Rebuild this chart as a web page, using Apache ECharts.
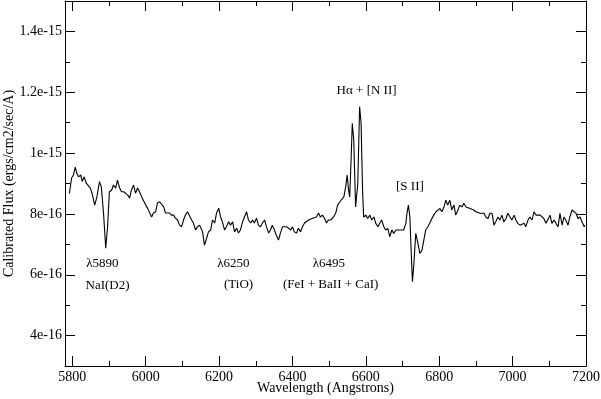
<!DOCTYPE html>
<html>
<head>
<meta charset="utf-8">
<script src="https://cdn.jsdelivr.net/npm/echarts@6/dist/echarts.min.js"></script>
<style>
  html, body { margin: 0; padding: 0; background: #fff; }
  #chart { width: 601px; height: 399px; }
</style>
</head>
<body>
<div id="chart"></div>
<script>
  // spectrum, wavelength in Angstrom, flux in units of 1e-16 ergs/cm2/sec/A
  const wavelength = [
    5792, 5798, 5803, 5808, 5812, 5817, 5823, 5827, 5832, 5838, 5843, 5849, 5854, 5861, 5867, 5874, 5879, 5885, 5891, 5896,
    5901, 5907, 5912, 5918, 5923, 5929, 5934, 5940, 5945, 5951, 5956, 5961, 5967, 5972, 5978, 5983, 5989, 5994, 6000, 6005,
    6010, 6016, 6021, 6027, 6032, 6038, 6043, 6049, 6054, 6059, 6065, 6070, 6076, 6081, 6087, 6092, 6098, 6103, 6108, 6114,
    6119, 6125, 6130, 6136, 6141, 6147, 6152, 6155, 6160, 6166, 6171, 6177, 6182, 6188, 6193, 6199, 6204, 6209, 6215, 6220,
    6226, 6231, 6237, 6242, 6248, 6253, 6258, 6264, 6269, 6275, 6280, 6286, 6291, 6296, 6302, 6307, 6313, 6318, 6324, 6329,
    6335, 6340, 6345, 6351, 6356, 6362, 6367, 6373, 6378, 6384, 6389, 6395, 6400, 6405, 6411, 6416, 6422, 6427, 6433, 6438,
    6444, 6449, 6455, 6460, 6465, 6471, 6476, 6482, 6487, 6493, 6498, 6504, 6507, 6512, 6518, 6523, 6529, 6534, 6540, 6545,
    6549, 6553, 6556, 6560, 6563, 6567, 6572, 6578, 6583, 6587, 6591, 6594, 6600, 6605, 6611, 6616, 6622, 6627, 6633, 6638,
    6643, 6649, 6654, 6660, 6665, 6671, 6676, 6682, 6687, 6693, 6698, 6703, 6709, 6712, 6716, 6720, 6723, 6727, 6731, 6736,
    6742, 6747, 6753, 6758, 6763, 6769, 6774, 6780, 6785, 6791, 6796, 6802, 6807, 6813, 6818, 6823, 6829, 6834, 6840, 6845,
    6851, 6856, 6862, 6867, 6873, 6878, 6884, 6889, 6894, 6900, 6905, 6911, 6916, 6922, 6927, 6933, 6938, 6944, 6949, 6954,
    6960, 6965, 6971, 6976, 6982, 6987, 6993, 6998, 7004, 7009, 7014, 7020, 7025, 7031, 7036, 7042, 7047, 7053, 7058, 7064,
    7069, 7075, 7080, 7085, 7091, 7096, 7102, 7107, 7113, 7118, 7124, 7129, 7135, 7140, 7145, 7151, 7156, 7162, 7167, 7173,
    7178, 7184, 7189, 7195, 7197
  ]
  const flux = [
    8.67, 9.18, 9.28, 9.54, 9.34, 9.22, 9.28, 9.06, 9.22, 9.01, 9.06, 8.85, 8.67, 8.29, 8.56, 9.06, 8.89, 8.03, 6.87, 7.58,
    8.73, 8.78, 8.95, 8.85, 9.11, 8.85, 8.73, 8.73, 8.68, 8.62, 8.52, 8.78, 8.95, 8.68, 8.85, 8.73, 8.56, 8.56, 8.29, 8.19,
    8.13, 7.90, 8.03, 8.07, 8.36, 8.40, 8.45, 8.23, 8.03, 8.07, 8.03, 7.96, 7.96, 7.86, 7.80, 7.63, 7.58, 7.80, 7.96, 8.07,
    8.03, 7.80, 7.70, 7.47, 7.58, 7.63, 7.58, 7.41, 6.97, 7.20, 7.41, 7.47, 7.80, 7.70, 8.03, 8.19, 7.90, 7.74, 7.47, 7.58,
    7.74, 7.63, 7.74, 7.41, 7.53, 7.37, 7.47, 7.74, 7.90, 8.07, 7.80, 7.70, 7.80, 7.70, 7.86, 7.63, 7.58, 7.70, 7.80, 7.58,
    7.37, 7.47, 7.63, 7.47, 7.30, 7.14, 7.37, 7.58, 7.63, 7.58, 7.58, 7.47, 7.58, 7.41, 7.37, 7.53, 7.41, 7.58, 7.70, 7.74,
    7.80, 7.74, 7.86, 7.80, 7.90, 8.03, 7.90, 7.96, 7.86, 7.70, 7.80, 7.80, 7.74, 7.90, 8.03, 8.29, 8.40, 8.35, 8.56, 8.89,
    9.28, 8.78, 8.56, 9.88, 10.98, 10.43, 8.23, 9.00, 11.52, 10.98, 8.78, 7.90, 7.96, 7.85, 7.96, 7.80, 7.90, 7.69, 7.58, 7.69,
    7.80, 7.58, 7.47, 7.52, 7.25, 7.47, 7.36, 7.47, 7.41, 7.47, 7.41, 7.47, 7.69, 8.02, 8.29, 7.90, 6.92, 5.77, 6.37, 7.36,
    7.03, 6.70, 6.81, 7.14, 7.47, 7.58, 7.69, 7.85, 7.96, 8.07, 8.02, 8.18, 8.07, 8.23, 8.45, 8.29, 8.45, 8.13, 8.29, 7.96,
    8.13, 8.29, 8.23, 8.35, 8.23, 8.29, 8.18, 8.13, 8.13, 8.07, 8.07, 8.02, 7.96, 8.02, 7.90, 7.85, 8.02, 8.02, 7.63, 7.74,
    7.90, 7.80, 7.96, 7.74, 7.85, 8.02, 7.90, 7.80, 7.96, 7.80, 7.69, 7.63, 7.58, 7.69, 7.58, 7.80, 7.90, 7.80, 8.07, 7.96,
    8.02, 7.96, 7.96, 7.85, 7.69, 7.74, 7.96, 7.69, 7.80, 7.69, 7.58, 8.02, 7.63, 7.90, 7.80, 7.63, 7.90, 8.13, 8.07, 8.02,
    7.85, 7.90, 7.74, 7.58, 7.63
  ]

  // tick positions
  const xMajorTicks = [5800, 6000, 6200, 6400, 6600, 6800, 7000, 7200]
  const xMinorTicks = [5900, 6100, 6300, 6500, 6700, 6900, 7100]
  const yMajorTicks = [4, 6, 8, 10, 12, 14]
  const yMinorTicks = [5, 7, 9, 11, 13]

  // line identifications: text, wavelength, flux where the text sits
  const labelText = ['λ5890', 'NaI(D2)', 'λ6250', '(TiO)', 'λ6495', '(FeI + BaII + CaI)', 'Hα + [N II]', '[S II]']
  const labelWave = [5882, 5896, 6239, 6253, 6499, 6504, 6602, 6720]
  const labelFlux = [6.37, 5.65, 6.37, 5.67, 6.37, 5.67, 12.07, 8.91]

  const font = 'Liberation Serif'
  const xMin = 5780
  const xMax = 7200
  const yMin = 3
  const yMax = 15

  const fmtFlux = v => v >= 10 ? (v / 10) + 'e-15' : v + 'e-16'

  function xAxis (pos, ticks, len, major, labels) {
    return {
      type: 'value',
      position: pos,
      min: xMin,
      max: xMax,
      splitLine: { show: false },
      axisLine: { show: major, onZero: false, lineStyle: { color: '#000', width: 1 } },
      axisTick: { show: true, inside: true, length: len, customValues: ticks, lineStyle: { color: '#000' } },
      axisLabel: labels
        ? { show: true, customValues: ticks, margin: 4, color: '#000', fontFamily: font, fontSize: 14, formatter: v => String(v) }
        : { show: false },
      name: labels ? 'Wavelength (Angstrons)' : '',
      nameLocation: 'middle',
      nameGap: 15,
      nameMoveOverlap: false,
      nameTextStyle: { color: '#000', fontFamily: font, fontSize: 14 }
    }
  }

  function yAxis (pos, ticks, len, major, labels) {
    return {
      type: 'value',
      position: pos,
      min: yMin,
      max: yMax,
      splitLine: { show: false },
      axisLine: { show: major, onZero: false, lineStyle: { color: '#000', width: 1 } },
      axisTick: { show: true, inside: true, length: len, customValues: ticks, lineStyle: { color: '#000' } },
      axisLabel: labels
        ? { show: true, customValues: ticks, margin: 3, color: '#000', fontFamily: font, fontSize: 14, formatter: fmtFlux }
        : { show: false },
      name: labels ? 'Calibrated Flux (ergs/cm2/sec/A)' : '',
      nameLocation: 'middle',
      nameRotate: 90,
      nameGap: 49,
      nameMoveOverlap: false,
      nameTextStyle: { color: '#000', fontFamily: font, fontSize: 14 }
    }
  }

  const chart = echarts.init(document.getElementById('chart'), null, { renderer: 'canvas' })
  chart.setOption({
    animation: false,
    backgroundColor: '#fff',
    grid: { left: 65, right: 15, top: 1, bottom: 33, containLabel: false, outerBoundsMode: 'none' },
    xAxis: [
      xAxis('bottom', xMajorTicks, 10, true, true),
      xAxis('bottom', xMinorTicks, 5, false, false),
      xAxis('top', xMajorTicks, 10, true, false),
      xAxis('top', xMinorTicks, 5, false, false)
    ],
    yAxis: [
      yAxis('left', yMajorTicks, 10, true, true),
      yAxis('left', yMinorTicks, 5, false, false),
      yAxis('right', yMajorTicks, 10, true, false),
      yAxis('right', yMinorTicks, 5, false, false)
    ],
    series: [
      {
        type: 'line',
        xAxisIndex: 0,
        yAxisIndex: 0,
        showSymbol: false,
        symbol: 'none',
        lineStyle: { color: '#000', width: 1.1 },
        data: wavelength.map((w, i) => [w, flux[i]])
      }
    ]
  })

  // line identification texts, placed through the chart's own scales
  chart.setOption({
    graphic: labelText.map((t, i) => {
      const p = chart.convertToPixel({ gridIndex: 0 }, [labelWave[i], labelFlux[i]])
      return {
        type: 'text',
        x: p[0],
        y: p[1],
        silent: true,
        style: {
          text: t,
          fill: '#000',
          font: '13px "Liberation Serif"',
          align: 'center',
          verticalAlign: 'middle'
        }
      }
    })
  })
</script>
</body>
</html>
